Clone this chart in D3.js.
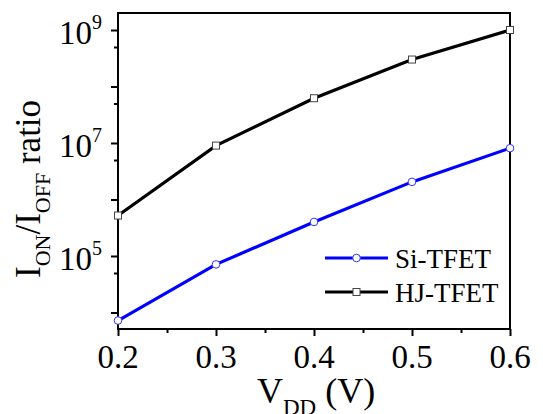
<!DOCTYPE html>
<html>
<head>
<meta charset="utf-8">
<script src="https://cdn.jsdelivr.net/npm/d3@7"></script>
<style>
  body { margin: 0; background: #fff; }
  svg text { font-family: "Times New Roman", Times, "Liberation Serif", Tinos, serif; }
</style>
</head>
<body>
<div id="chart"></div>
<script>
const vdd = [0.2, 0.3, 0.4, 0.5, 0.6];
const siTfet = [7.2e3, 7.1e4, 4.0e5, 2.05e6, 8.1e6];
const hjTfet = [5.2e5, 9.0e6, 6.2e7, 3.0e8, 1.0e9];
const xMajor = [0.2, 0.3, 0.4, 0.5, 0.6];
const xMinor = [0.25, 0.35, 0.45, 0.55];
const yDecades = [1e4, 1e5, 1e6, 1e7, 1e8, 1e9];
const yHalves = [5e3, 5e4, 5e5, 5e6, 5e7, 5e8];
const yLabels = [5, 7, 9];

const w = 543, h = 414;
const padL = 118, padR = 510, padT = 13, padB = 329;

const svg = d3.select('#chart').append('svg')
  .attr('width', w)
  .attr('height', h);

const x = d3.scaleLinear().domain([0.2, 0.6]).range([padL, padR]);
const y = d3.scaleLog().domain([5.1e3, 2e9]).range([padB, padT]);

// frame
svg.append('rect')
   .attr('x', padL).attr('y', padT)
   .attr('width', padR - padL).attr('height', padB - padT)
   .attr('fill', 'none').attr('stroke', '#000').attr('stroke-width', 2);

// x axis
svg.append('g')
   .attr('transform', `translate(0, ${padB})`)
   .call(d3.axisBottom(x).tickValues(xMajor).tickSize(7).tickFormat(''))
   .call(g => g.select('.domain').remove())
   .selectAll('line').attr('stroke-width', 2);
svg.append('g')
   .attr('transform', `translate(0, ${padB})`)
   .call(d3.axisBottom(x).tickValues(xMinor).tickSize(4).tickFormat(''))
   .call(g => g.select('.domain').remove())
   .selectAll('line').attr('stroke-width', 2);

svg.selectAll('.xlab')
   .data(xMajor)
   .enter()
   .append('text')
   .attr('class', 'xlab')
   .attr('x', d => x(d))
   .attr('y', 368)
   .attr('text-anchor', 'middle')
   .style('font-size', '33px')
   .text(d => d3.format('.1f')(d));

// y axis
svg.append('g')
   .attr('transform', `translate(${padL}, 0)`)
   .call(d3.axisLeft(y).tickValues(yDecades).tickSize(7).tickFormat(''))
   .call(g => g.select('.domain').remove())
   .selectAll('line').attr('stroke-width', 2);
svg.append('g')
   .attr('transform', `translate(${padL}, 0)`)
   .call(d3.axisLeft(y).tickValues(yHalves.filter(v => y(v) <= padB)).tickSize(4).tickFormat(''))
   .call(g => g.select('.domain').remove())
   .selectAll('line').attr('stroke-width', 2);

const ylab = svg.selectAll('.ylab')
   .data(yLabels)
   .enter()
   .append('text')
   .attr('class', 'ylab')
   .attr('x', 102)
   .attr('y', d => y(Math.pow(10, d)) + 14)
   .attr('text-anchor', 'end')
   .style('font-size', '33px');
ylab.append('tspan').text('10');
ylab.append('tspan')
    .attr('dy', -15)
    .style('font-size', '20px')
    .text(d => d);

// axis titles
const yt = svg.append('text')
   .attr('transform', 'translate(40, 278) rotate(-90)')
   .style('font-size', '35px');
yt.append('tspan').text('I');
yt.append('tspan').attr('dy', 10).style('font-size', '22px').text('ON');
yt.append('tspan').attr('dy', -10).text('/I');
yt.append('tspan').attr('dy', 10).style('font-size', '22px').text('OFF');
yt.append('tspan').attr('dy', -10).text(' ratio');

const xt = svg.append('text')
   .attr('x', 257)
   .attr('y', 403)
   .style('font-size', '36px');
xt.append('tspan').text('V');
xt.append('tspan').attr('dy', 12).style('font-size', '23px').text('DD');
xt.append('tspan').attr('dy', -12).text(' (V)');

// series
const series = [
  { name: 'Si-TFET', values: siTfet, color: '#0000ff', marker: 'circle' },
  { name: 'HJ-TFET', values: hjTfet, color: '#000000', marker: 'square' }
];

const line = d3.line()
  .x((d, i) => x(vdd[i]))
  .y(d => y(d));

series.forEach(s => {
  svg.append('path')
     .datum(s.values)
     .attr('d', line)
     .attr('fill', 'none')
     .attr('stroke', s.color)
     .attr('stroke-width', 3.2);

  if (s.marker === 'circle') {
    svg.selectAll('.m-si')
       .data(s.values)
       .enter()
       .append('circle')
       .attr('class', 'm-si')
       .attr('cx', (d, i) => x(vdd[i]))
       .attr('cy', d => y(d))
       .attr('r', 3.8)
       .attr('fill', '#fff')
       .attr('stroke', '#3333ff')
       .attr('stroke-width', 1);
  } else {
    svg.selectAll('.m-hj')
       .data(s.values)
       .enter()
       .append('rect')
       .attr('class', 'm-hj')
       .attr('x', (d, i) => x(vdd[i]) - 3.5)
       .attr('y', d => y(d) - 3.5)
       .attr('width', 7)
       .attr('height', 7)
       .attr('fill', '#fff')
       .attr('stroke', '#444')
       .attr('stroke-width', 1);
  }
});

// legend
const legend = svg.selectAll('.legend')
  .data(series)
  .enter()
  .append('g')
  .attr('class', 'legend')
  .attr('transform', (d, i) => `translate(325, ${258 + i * 34})`);

legend.append('line')
  .attr('x1', 0).attr('x2', 63)
  .attr('y1', 0).attr('y2', 0)
  .attr('stroke', d => d.color)
  .attr('stroke-width', 3.2);

legend.filter(d => d.marker === 'circle').append('circle')
  .attr('cx', 31.5).attr('cy', 0).attr('r', 3.8)
  .attr('fill', '#fff').attr('stroke', '#3333ff').attr('stroke-width', 1);

legend.filter(d => d.marker === 'square').append('rect')
  .attr('x', 28).attr('y', -3.5).attr('width', 7).attr('height', 7)
  .attr('fill', '#fff').attr('stroke', '#444').attr('stroke-width', 1);

legend.append('text')
  .attr('x', 70)
  .attr('y', 10)
  .style('font-size', '27px')
  .text(d => d.name);
</script>
</body>
</html>
